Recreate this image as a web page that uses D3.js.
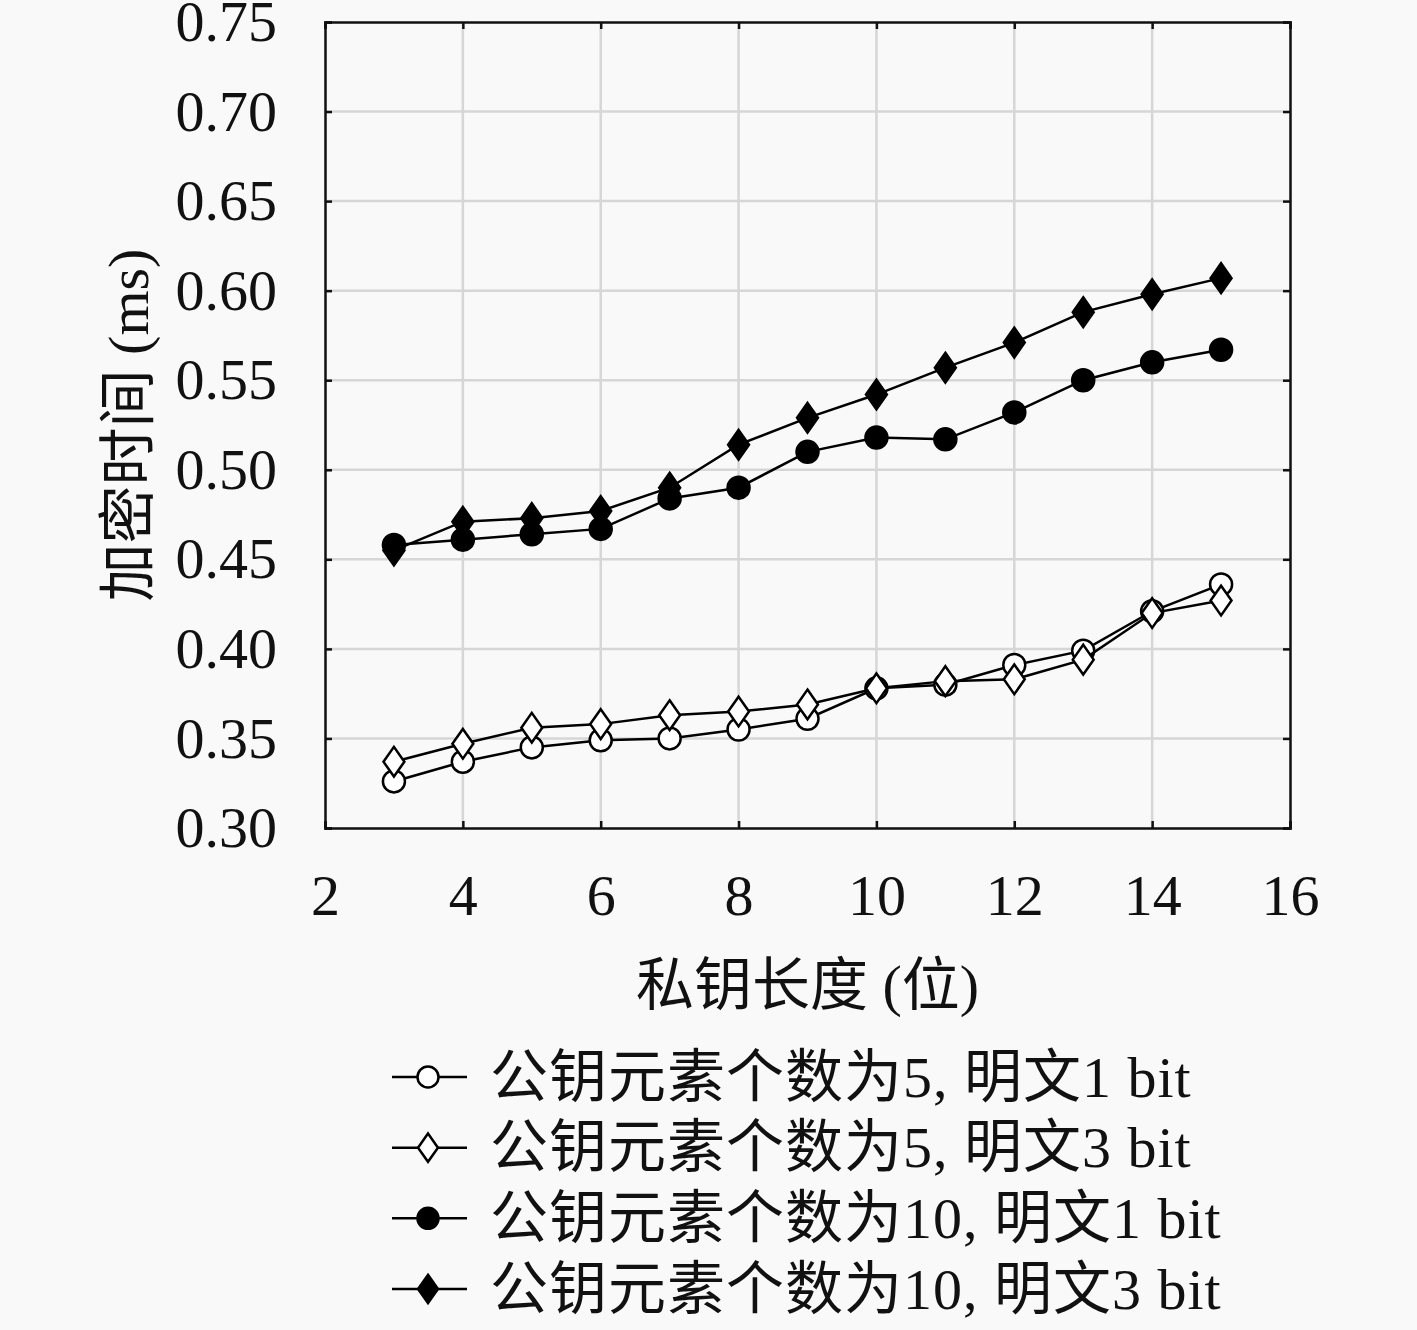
<!DOCTYPE html>
<html>
<head>
<meta charset="utf-8">
<script src="https://d3js.org/d3.v7.min.js"></script>
<style>
  body { margin: 0; background: #f9f9f9; }
  text { font-family: "Liberation Serif", "DejaVu Serif", "Noto Sans CJK SC", serif; fill: #111; }
  .grid line { stroke: #d6d6d6; stroke-width: 2.5; }
</style>
</head>
<body>
<svg width="1417" height="1330"></svg>
<script>
var keyLength = [3, 4, 5, 6, 7, 8, 9, 10, 11, 12, 13, 14, 15];

var s5bit1  = [0.326, 0.337, 0.345, 0.349, 0.350, 0.355, 0.361, 0.378, 0.380, 0.391, 0.399, 0.421, 0.436];
var s5bit3  = [0.337, 0.347, 0.356, 0.358, 0.363, 0.365, 0.369, 0.378, 0.382, 0.383, 0.394, 0.420, 0.427];
var s10bit1 = [0.458, 0.461, 0.464, 0.467, 0.484, 0.490, 0.510, 0.518, 0.517, 0.532, 0.550, 0.560, 0.567];
var s10bit3 = [0.455, 0.471, 0.473, 0.477, 0.490, 0.514, 0.529, 0.542, 0.557, 0.571, 0.588, 0.598, 0.607];

var seriesNames = ["公钥元素个数为5, 明文1 bit", "公钥元素个数为5, 明文3 bit",
                   "公钥元素个数为10, 明文1 bit", "公钥元素个数为10, 明文3 bit"];
var xTicks = [2, 4, 6, 8, 10, 12, 14, 16];
var yTicks = [0.30, 0.35, 0.40, 0.45, 0.50, 0.55, 0.60, 0.65, 0.70, 0.75];

var series = [
  {name: seriesNames[0], values: s5bit1,  shape: "circle",  fill: "#fff"},
  {name: seriesNames[1], values: s5bit3,  shape: "diamond", fill: "#fff"},
  {name: seriesNames[2], values: s10bit1, shape: "circle",  fill: "#000"},
  {name: seriesNames[3], values: s10bit3, shape: "diamond", fill: "#000"}
];

var pLeft = 325, pRight = 1290, pTop = 22, pBottom = 828;
var svg = d3.select("svg");

var x = d3.scaleLinear().domain([2, 16]).range([pLeft, pRight]);
var y = d3.scaleLinear().domain([0.30, 0.75]).range([pBottom, pTop]);

// grid
var grid = svg.append("g").attr("class", "grid");
grid.selectAll(".gx").data(xTicks.slice(1, -1)).enter().append("line")
  .attr("x1", d => x(d)).attr("x2", d => x(d)).attr("y1", pTop).attr("y2", pBottom);
grid.selectAll(".gy").data(yTicks.slice(1, -1)).enter().append("line")
  .attr("y1", d => y(d)).attr("y2", d => y(d)).attr("x1", pLeft).attr("x2", pRight);

// axes with short inward ticks
var fmt = d3.format(".2f");
var axB = svg.append("g").attr("transform", "translate(0," + pBottom + ")")
  .call(d3.axisBottom(x).tickValues(xTicks).tickSize(-7).tickPadding(46).tickFormat(d3.format("d")));
var axT = svg.append("g").attr("transform", "translate(0," + pTop + ")")
  .call(d3.axisTop(x).tickValues(xTicks).tickSize(-7).tickFormat(""));
var axL = svg.append("g").attr("transform", "translate(" + pLeft + ",0)")
  .call(d3.axisLeft(y).tickValues(yTicks).tickSize(-7).tickPadding(48).tickFormat(fmt));
var axR = svg.append("g").attr("transform", "translate(" + pRight + ",0)")
  .call(d3.axisRight(y).tickValues(yTicks).tickSize(-7).tickFormat(""));
[axB, axT, axL, axR].forEach(function(a) {
  a.select(".domain").attr("stroke", "#111").attr("stroke-width", 2.5);
  a.selectAll(".tick line").attr("stroke", "#111").attr("stroke-width", 2.5);
  a.selectAll(".tick text").style("font-size", "58px").attr("fill", "#111")
    .style("font-family", "'Liberation Serif', serif");
});

// titles
svg.append("text").attr("x", (pLeft + pRight) / 2).attr("y", 985)
  .attr("text-anchor", "middle").attr("dominant-baseline", "central")
  .style("font-size", "58px").text("私钥长度 (位)");
svg.append("text").attr("transform", "translate(128,425) rotate(-90)")
  .attr("text-anchor", "middle").attr("dominant-baseline", "central")
  .style("font-size", "58px").text("加密时间 (ms)");

function marker(g, shape, fill, r) {
  if (shape === "circle") {
    g.append("circle").attr("r", r).attr("fill", fill).attr("stroke", "#000").attr("stroke-width", 2.5);
  } else {
    var w = r * 0.95, h = r * 1.35;
    g.append("path").attr("d", "M0," + (-h) + "L" + w + ",0L0," + h + "L" + (-w) + ",0Z")
      .attr("fill", fill).attr("stroke", "#000").attr("stroke-width", 2.5);
  }
}

var line = d3.line().x((d, i) => x(keyLength[i])).y(d => y(d));

series.forEach(function(s) {
  svg.append("path").datum(s.values).attr("d", line)
    .attr("fill", "none").attr("stroke", "#000").attr("stroke-width", 2.5);
  s.values.forEach(function(v, i) {
    var g = svg.append("g").attr("transform", "translate(" + x(keyLength[i]) + "," + y(v) + ")");
    marker(g, s.shape, s.fill, 11);
  });
});

// legend
var legY = d3.scalePoint().domain(seriesNames).range([1077, 1289]);
series.forEach(function(s) {
  var ly = legY(s.name);
  svg.append("line").attr("x1", 392).attr("x2", 467).attr("y1", ly).attr("y2", ly)
    .attr("stroke", "#000").attr("stroke-width", 2.5);
  var g = svg.append("g").attr("transform", "translate(428," + ly + ")");
  marker(g, s.shape, s.fill, 10.5);
  svg.append("text").attr("x", 490).attr("y", ly).attr("dominant-baseline", "central")
    .style("font-size", "58px").style("letter-spacing", "1px").text(s.name);
});
</script>
</body>
</html>
